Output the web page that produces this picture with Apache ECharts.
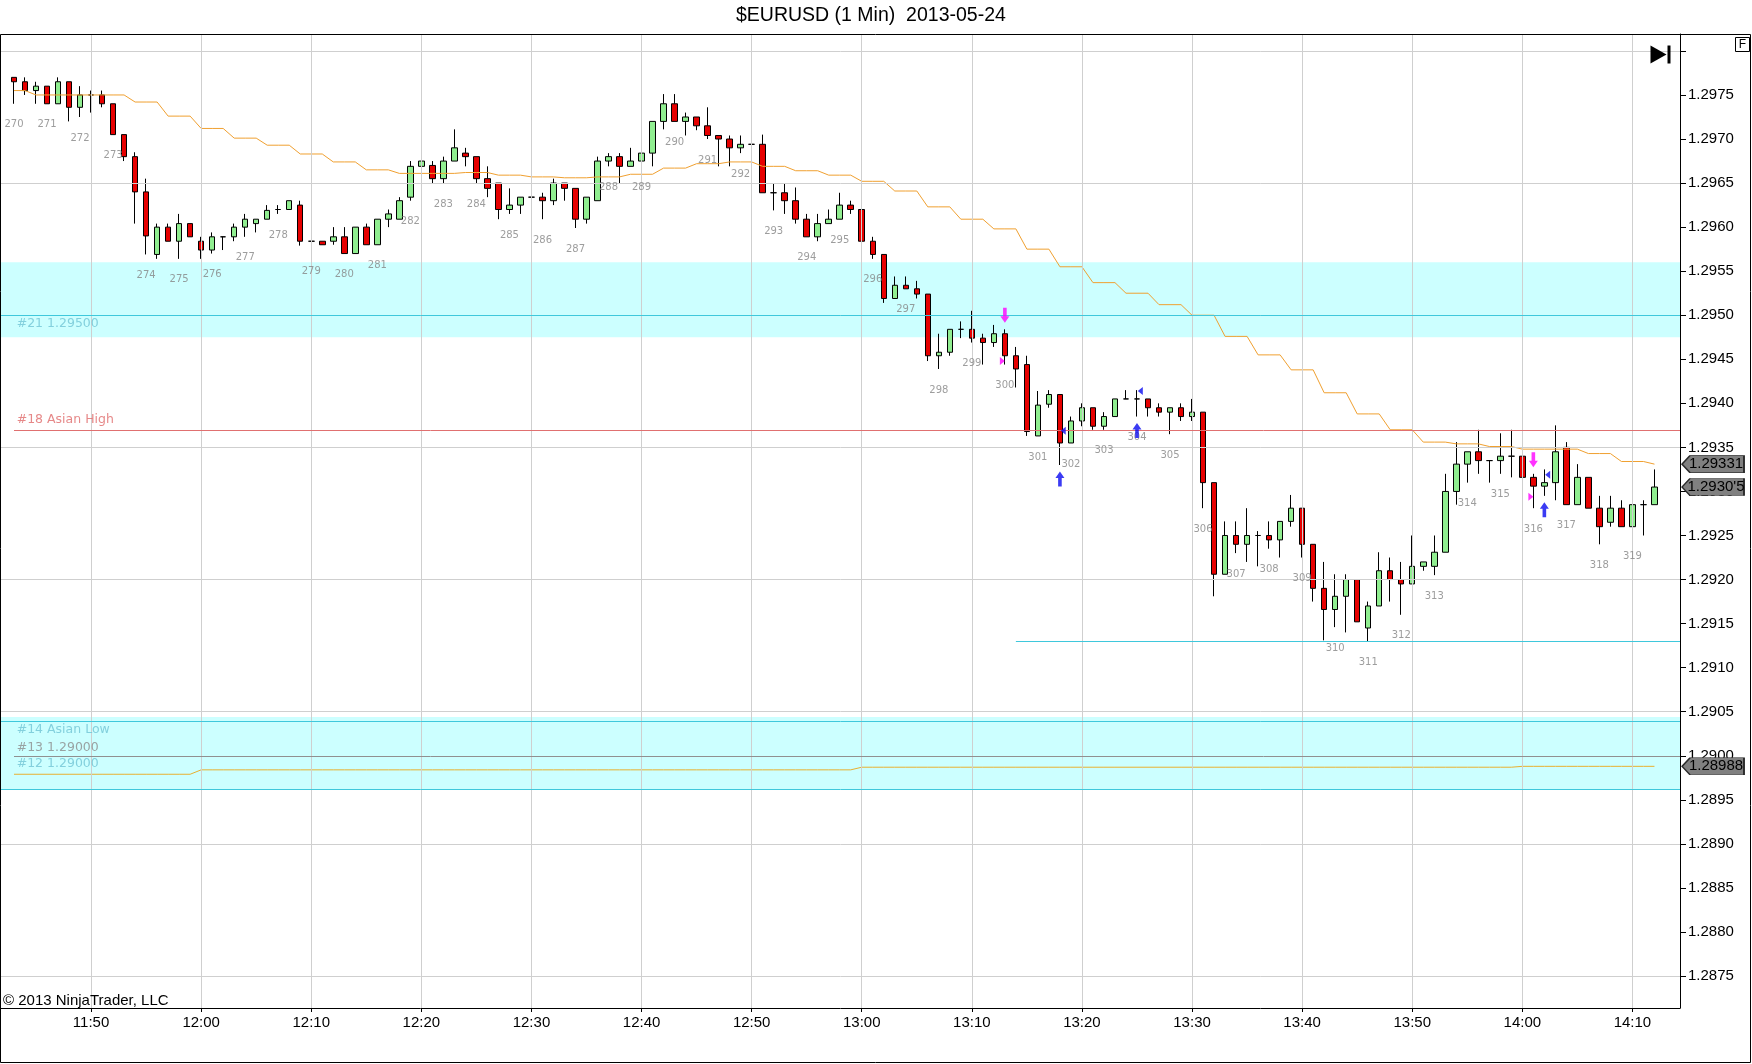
<!DOCTYPE html>
<html>
<head>
<meta charset="utf-8">
<script src="https://cdn.jsdelivr.net/npm/echarts@6.0.0/dist/echarts.min.js"></script>
<style>
html,body{margin:0;padding:0;background:#fff;}
#chart{width:1752px;height:1064px;}
</style>
</head>
<body>
<div id="chart"></div>
<script>
// ---------------- DATA ----------------
const times = [
'11:43','11:44','11:45','11:46','11:47','11:48','11:49','11:50','11:51','11:52',
'11:53','11:54','11:55','11:56','11:57','11:58','11:59','12:00','12:01','12:02',
'12:03','12:04','12:05','12:06','12:07','12:08','12:09','12:10','12:11','12:12',
'12:13','12:14','12:15','12:16','12:17','12:18','12:19','12:20','12:21','12:22',
'12:23','12:24','12:25','12:26','12:27','12:28','12:29','12:30','12:31','12:32',
'12:33','12:34','12:35','12:36','12:37','12:38','12:39','12:40','12:41','12:42',
'12:43','12:44','12:45','12:46','12:47','12:48','12:49','12:50','12:51','12:52',
'12:53','12:54','12:55','12:56','12:57','12:58','12:59','13:00','13:01','13:02',
'13:03','13:04','13:05','13:06','13:07','13:08','13:09','13:10','13:11','13:12',
'13:13','13:14','13:15','13:16','13:17','13:18','13:19','13:20','13:21','13:22',
'13:23','13:24','13:25','13:26','13:27','13:28','13:29','13:30','13:31','13:32',
'13:33','13:34','13:35','13:36','13:37','13:38','13:39','13:40','13:41','13:42',
'13:43','13:44','13:45','13:46','13:47','13:48','13:49','13:50','13:51','13:52',
'13:53','13:54','13:55','13:56','13:57','13:58','13:59','14:00','14:01','14:02',
'14:03','14:04','14:05','14:06','14:07','14:08','14:09','14:10','14:11','14:12'
];
const open = [
1.29770,1.29765,1.29755,1.29760,1.29740,1.29765,1.29736,1.29750,1.29750,1.29740,
1.29705,1.29680,1.29640,1.29569,1.29600,1.29584,1.29604,1.29584,1.29574,1.29589,
1.29589,1.29600,1.29604,1.29609,1.29620,1.29620,1.29625,1.29584,1.29584,1.29584,
1.29589,1.29570,1.29600,1.29580,1.29609,1.29609,1.29634,1.29669,1.29670,1.29655,
1.29675,1.29684,1.29680,1.29655,1.29650,1.29620,1.29625,1.29634,1.29634,1.29630,
1.29650,1.29644,1.29609,1.29630,1.29675,1.29680,1.29669,1.29675,1.29684,1.29720,
1.29740,1.29720,1.29725,1.29715,1.29704,1.29700,1.29690,1.29694,1.29694,1.29639,
1.29639,1.29630,1.29609,1.29589,1.29604,1.29609,1.29625,1.29620,1.29584,1.29569,
1.29519,1.29534,1.29530,1.29524,1.29454,1.29458,1.29484,1.29484,1.29474,1.29469,
1.29479,1.29454,1.29444,1.29363,1.29399,1.29410,1.29355,1.29380,1.29395,1.29374,
1.29385,1.29405,1.29405,1.29405,1.29395,1.29390,1.29395,1.29385,1.29390,1.29310,
1.29206,1.29250,1.29240,1.29250,1.29250,1.29245,1.29266,1.29281,1.29240,1.29190,
1.29166,1.29181,1.29200,1.29145,1.29170,1.29210,1.29200,1.29195,1.29215,1.29215,
1.29231,1.29300,1.29331,1.29345,1.29335,1.29335,1.29340,1.29340,1.29316,1.29306,
1.29310,1.29350,1.29285,1.29316,1.29281,1.29265,1.29281,1.29260,1.29285,1.29285
];
const close = [
1.29765,1.29755,1.29760,1.29740,1.29765,1.29736,1.29750,1.29750,1.29740,1.29705,
1.29680,1.29640,1.29590,1.29600,1.29584,1.29604,1.29589,1.29574,1.29589,1.29589,
1.29600,1.29609,1.29609,1.29619,1.29620,1.29630,1.29584,1.29584,1.29580,1.29589,
1.29570,1.29600,1.29580,1.29609,1.29615,1.29630,1.29669,1.29675,1.29655,1.29675,
1.29690,1.29680,1.29655,1.29644,1.29620,1.29625,1.29634,1.29634,1.29630,1.29650,
1.29644,1.29609,1.29634,1.29675,1.29680,1.29669,1.29675,1.29684,1.29720,1.29740,
1.29720,1.29725,1.29715,1.29704,1.29700,1.29690,1.29694,1.29694,1.29639,1.29639,
1.29630,1.29609,1.29589,1.29604,1.29609,1.29625,1.29620,1.29584,1.29569,1.29519,
1.29534,1.29530,1.29524,1.29454,1.29458,1.29484,1.29484,1.29474,1.29469,1.29479,
1.29454,1.29439,1.29368,1.29398,1.29410,1.29355,1.29380,1.29395,1.29374,1.29385,
1.29405,1.29405,1.29405,1.29395,1.29390,1.29395,1.29385,1.29390,1.29310,1.29206,
1.29250,1.29240,1.29250,1.29250,1.29245,1.29266,1.29281,1.29240,1.29190,1.29166,
1.29181,1.29200,1.29152,1.29170,1.29210,1.29200,1.29195,1.29215,1.29220,1.29231,
1.29300,1.29331,1.29345,1.29335,1.29335,1.29340,1.29340,1.29316,1.29306,1.29310,
1.29345,1.29285,1.29316,1.29281,1.29260,1.29281,1.29260,1.29285,1.29285,1.29305
];
const low = [
1.29740,1.29750,1.29740,1.29740,1.29740,1.29720,1.29725,1.29730,1.29736,1.29705,
1.29675,1.29604,1.29569,1.29564,1.29584,1.29564,1.29589,1.29564,1.29570,1.29574,
1.29584,1.29589,1.29594,1.29609,1.29615,1.29620,1.29579,1.29574,1.29580,1.29580,
1.29570,1.29570,1.29580,1.29580,1.29600,1.29609,1.29630,1.29660,1.29650,1.29650,
1.29675,1.29669,1.29650,1.29634,1.29609,1.29615,1.29615,1.29630,1.29609,1.29625,
1.29630,1.29599,1.29604,1.29630,1.29669,1.29650,1.29669,1.29669,1.29669,1.29711,
1.29720,1.29704,1.29710,1.29700,1.29669,1.29669,1.29684,1.29690,1.29639,1.29619,
1.29615,1.29604,1.29589,1.29584,1.29604,1.29609,1.29615,1.29579,1.29564,1.29514,
1.29519,1.29530,1.29519,1.29448,1.29439,1.29454,1.29474,1.29469,1.29444,1.29464,
1.29444,1.29418,1.29363,1.29363,1.29395,1.29330,1.29355,1.29374,1.29370,1.29370,
1.29385,1.29405,1.29385,1.29385,1.29385,1.29365,1.29380,1.29380,1.29281,1.29181,
1.29206,1.29230,1.29220,1.29215,1.29235,1.29225,1.29260,1.29225,1.29175,1.29131,
1.29146,1.29140,1.29152,1.29130,1.29170,1.29175,1.29160,1.29195,1.29210,1.29205,
1.29231,1.29285,1.29310,1.29320,1.29310,1.29320,1.29316,1.29310,1.29281,1.29295,
1.29290,1.29285,1.29285,1.29281,1.29240,1.29260,1.29260,1.29250,1.29250,1.29285
];
const high = [
1.29770,1.29770,1.29765,1.29760,1.29770,1.29765,1.29760,1.29755,1.29755,1.29740,
1.29705,1.29685,1.29655,1.29604,1.29604,1.29615,1.29604,1.29589,1.29594,1.29589,
1.29604,1.29615,1.29609,1.29625,1.29625,1.29630,1.29630,1.29589,1.29584,1.29600,
1.29600,1.29600,1.29604,1.29609,1.29620,1.29634,1.29675,1.29675,1.29675,1.29680,
1.29711,1.29690,1.29680,1.29669,1.29650,1.29644,1.29634,1.29659,1.29639,1.29655,
1.29650,1.29644,1.29634,1.29680,1.29684,1.29684,1.29690,1.29694,1.29720,1.29751,
1.29751,1.29730,1.29725,1.29736,1.29704,1.29704,1.29704,1.29700,1.29705,1.29650,
1.29650,1.29645,1.29615,1.29615,1.29620,1.29639,1.29630,1.29625,1.29589,1.29569,
1.29544,1.29544,1.29539,1.29524,1.29479,1.29484,1.29493,1.29505,1.29479,1.29489,
1.29484,1.29464,1.29454,1.29414,1.29415,1.29410,1.29385,1.29400,1.29395,1.29390,
1.29405,1.29415,1.29415,1.29405,1.29400,1.29395,1.29400,1.29405,1.29390,1.29310,
1.29266,1.29266,1.29281,1.29255,1.29266,1.29266,1.29296,1.29281,1.29240,1.29220,
1.29206,1.29206,1.29200,1.29175,1.29231,1.29225,1.29220,1.29250,1.29220,1.29250,
1.29320,1.29356,1.29345,1.29370,1.29335,1.29366,1.29370,1.29356,1.29320,1.29325,
1.29375,1.29356,1.29331,1.29316,1.29295,1.29295,1.29290,1.29285,1.29290,1.29325
];
// upper stepped average (orange)
const avgUpper = [
1.29755,1.29755,1.29750,1.29750,1.29750,1.29750,1.29750,1.29750,1.29750,1.29750,
1.29750,1.29742,1.29742,1.29742,1.29726,1.29726,1.29726,1.29712,1.29712,1.29712,
1.29701,1.29701,1.29701,1.29693,1.29693,1.29693,1.29683,1.29683,1.29683,1.29674,
1.29674,1.29674,1.29665,1.29665,1.29665,1.29661,1.29661,1.29661,1.29661,1.29661,
1.29661,1.29662,1.29662,1.29662,1.29659,1.29659,1.29659,1.29657,1.29657,1.29657,
1.29656,1.29656,1.29656,1.29657,1.29657,1.29657,1.29660,1.29660,1.29660,1.29667,
1.29667,1.29667,1.29672,1.29672,1.29672,1.29674,1.29674,1.29674,1.29669,1.29669,
1.29669,1.29664,1.29664,1.29664,1.29659,1.29659,1.29659,1.29652,1.29652,1.29652,
1.29641,1.29641,1.29641,1.29623,1.29623,1.29623,1.29609,1.29609,1.29609,1.29598,
1.29598,1.29598,1.29575,1.29575,1.29575,1.29555,1.29555,1.29555,1.29537,1.29537,
1.29537,1.29525,1.29525,1.29525,1.29512,1.29512,1.29512,1.29500,1.29500,1.29500,
1.29476,1.29476,1.29476,1.29455,1.29455,1.29455,1.29438,1.29438,1.29438,1.29412,
1.29412,1.29412,1.29388,1.29388,1.29388,1.29370,1.29370,1.29370,1.29356,1.29356,
1.29356,1.29354,1.29354,1.29354,1.29351,1.29351,1.29351,1.29348,1.29348,1.29348,
1.29348,1.29348,1.29348,1.29343,1.29343,1.29343,1.29334,1.29334,1.29334,1.29331
];
// lower stepped line (orange)
const avgLower = [
1.28979,1.28979,1.28979,1.28979,1.28979,1.28979,1.28979,1.28979,1.28979,1.28979,
1.28979,1.28979,1.28979,1.28979,1.28979,1.28979,1.28979,1.28984,1.28984,1.28984,
1.28984,1.28984,1.28984,1.28984,1.28984,1.28984,1.28984,1.28984,1.28984,1.28984,
1.28984,1.28984,1.28984,1.28984,1.28984,1.28984,1.28984,1.28984,1.28984,1.28984,
1.28984,1.28984,1.28984,1.28984,1.28984,1.28984,1.28984,1.28984,1.28984,1.28984,
1.28984,1.28984,1.28984,1.28984,1.28984,1.28984,1.28984,1.28984,1.28984,1.28984,
1.28984,1.28984,1.28984,1.28984,1.28984,1.28984,1.28984,1.28984,1.28984,1.28984,
1.28984,1.28984,1.28984,1.28984,1.28984,1.28984,1.28984,1.28987,1.28987,1.28987,
1.28987,1.28987,1.28987,1.28987,1.28987,1.28987,1.28987,1.28987,1.28987,1.28987,
1.28987,1.28987,1.28987,1.28987,1.28987,1.28987,1.28987,1.28987,1.28987,1.28987,
1.28987,1.28987,1.28987,1.28987,1.28987,1.28987,1.28987,1.28987,1.28987,1.28987,
1.28987,1.28987,1.28987,1.28987,1.28987,1.28987,1.28987,1.28987,1.28987,1.28987,
1.28987,1.28987,1.28987,1.28987,1.28987,1.28987,1.28987,1.28987,1.28987,1.28987,
1.28987,1.28987,1.28987,1.28987,1.28987,1.28987,1.28987,1.28988,1.28988,1.28988,
1.28988,1.28988,1.28988,1.28988,1.28988,1.28988,1.28988,1.28988,1.28988,1.28988
];
// bar numbers (every third bar)
const barNumbers = [270,271,272,273,274,275,276,277,278,279,280,281,282,283,284,285,286,287,288,289,
  290,291,292,293,294,295,296,297,298,299,300,301,302,303,304,305,306,307,308,309,
  310,311,312,313,314,315,316,317,318,319];
// zones & levels
const zoneTop = [1.29560, 1.29044];
const zoneBottom = [1.29475, 1.28962];
const levelPrices = [1.29500, 1.29370, 1.29039, 1.29000, 1.28962, 1.29130];
const levelStart = [null, '11:43', null, '11:43', null, '13:14'];
const levelTexts = ['#21 1.29500', '#18 Asian High', '#14 Asian Low', '#13 1.29000', '#12 1.29000'];
const levelTextPrices = [1.29500, 1.29370, 1.29039, 1.29000, 1.29000];
// signals
const buyArrowTimes = ['13:18', '13:25', '14:02'];
const sellArrowTimes = ['13:13', '14:01'];
const buyMarkTimes = ['13:18', '13:25', '14:02'];
const buyMarkPrices = [1.29369, 1.29414, 1.29319];
const sellMarkTimes = ['13:13', '14:01'];
const sellMarkPrices = [1.29448, 1.29294];
// axes
const xTickTimes = ['11:50','12:00','12:10','12:20','12:30','12:40','12:50','13:00','13:10','13:20','13:30','13:40','13:50','14:00','14:10'];
const yTickValues = [1.2875,1.2880,1.2885,1.2890,1.2895,1.2900,1.2905,1.2910,1.2915,1.2920,1.2925,1.2930,1.2935,1.2940,1.2945,1.2950,1.2955,1.2960,1.2965,1.2970,1.2975,1.2980];
const yLabelValues = [1.2875,1.2880,1.2885,1.2890,1.2895,1.2900,1.2905,1.2910,1.2915,1.2920,1.2925,1.2930,1.2935,1.2940,1.2945,1.2950,1.2955,1.2960,1.2965,1.2970,1.2975];
const yGridValues = [1.2875,1.2890,1.2905,1.2920,1.2935,1.2950,1.2965,1.2980];

// ---------------- HELPERS / STYLE ----------------
const toMin = t => { const p = t.split(':'); return (+p[0]) * 60 + (+p[1]); };
const fmtTime = v => { const h = Math.floor(v / 60), m = Math.round(v - h * 60); return h + ':' + (m < 10 ? '0' : '') + m; };
const X_MIN = 701.82, X_MAX = 854.32;
const Y_MIN = 1.287137, Y_MAX = 1.298192;
const AXIS_FONT = "'Liberation Sans Narrow', 'Liberation Sans', Arial, sans-serif";
const LABEL_FONT = "'DejaVu Sans', Verdana, sans-serif";
const levelColors = ['#3fc8dc', '#e07070', '#3fc8dc', '#909090', '#3fc8dc', '#3fc8dc'];
const levelTextColors = ['#70c4d4', '#e06a6a', '#70c4d4', '#8c8c8c', '#70c4d4'];
const levelTextDy = [9, -9.6, 8.7, -8.4, 7.6];
const TAG = 'path://M0,8.5 L8,0 L62,0 L62,17 L8,17 Z';
const idx = t => times.indexOf(t);

const candleData = times.map((t, i) => [toMin(t), open[i], close[i], low[i], high[i]]);
const upperData = times.map((t, i) => [toMin(t), avgUpper[i]]);
const lowerData = times.map((t, i) => [toMin(t), avgLower[i]]);
const barLabelData = barNumbers.map((n, k) => [toMin(times[3 * k]), low[3 * k], n]);

function tagMarker(value, text) {
  return {
    symbol: TAG, symbolSize: [62, 17], symbolOffset: [33, 0], silent: true,
    itemStyle: { color: '#808080', borderColor: '#2a2a2a', borderWidth: 1 },
    label: { show: true, position: 'inside', offset: [3, 0], color: '#000', fontFamily: AXIS_FONT, fontSize: 15, formatter: '{b}' },
    data: [{ name: text, coord: [X_MAX, value] }]
  };
}
const lastI = times.length - 1;
const closeText = (() => { const s = close[lastI].toFixed(5); return s.slice(0, -1) + "'" + s.slice(-1); })();

const gridLines = yGridValues.map(v => [{ coord: [X_MIN, v] }, { coord: [X_MAX, v] }])
  .concat(xTickTimes.map(t => [{ coord: [toMin(t), Y_MIN] }, { coord: [toMin(t), Y_MAX] }]));

const levelLines = levelPrices.map((p, i) => [
  { coord: [levelStart[i] ? toMin(levelStart[i]) : X_MIN, p], lineStyle: { color: levelColors[i], width: 1, type: 'solid' } },
  { coord: [X_MAX, p] }
]);

const levelTextData = levelTexts.map((txt, i) => ({
  value: [toMin(times[0]), levelTextPrices[i]],
  label: { show: true, formatter: txt, color: levelTextColors[i], position: 'inside', align: 'left', verticalAlign: 'middle', offset: [2.7, levelTextDy[i]], fontFamily: LABEL_FONT, fontSize: 12.5 }
}));

const chart = echarts.init(document.getElementById('chart'), null, { renderer: 'canvas' });
chart.setOption({
  animation: false,
  backgroundColor: '#ffffff',
  title: {
    text: '$EURUSD (1 Min)  2013-05-24', left: 736, top: 6, padding: 0,
    textStyle: { fontFamily: "'Liberation Sans', Arial, sans-serif", fontSize: 19.5, fontWeight: 'normal', color: '#000' }
  },
  grid: { left: 1, right: 72, top: 34, bottom: 56, containLabel: false },
  xAxis: {
    type: 'value', min: X_MIN, max: X_MAX, position: 'bottom',
    axisLine: { show: true, onZero: false, lineStyle: { color: '#000', width: 1 } },
    axisTick: { show: true, customValues: xTickTimes.map(toMin), length: 4, lineStyle: { color: '#000' } },
    axisLabel: { show: true, customValues: xTickTimes.map(toMin), formatter: v => fmtTime(v), color: '#000', fontFamily: AXIS_FONT, fontSize: 15, margin: 7 },
    splitLine: { show: false }
  },
  yAxis: {
    type: 'value', min: Y_MIN, max: Y_MAX, position: 'right', scale: true,
    axisLine: { show: true, onZero: false, lineStyle: { color: '#000', width: 1 } },
    axisTick: { show: true, inside: false, customValues: yTickValues, length: 6, lineStyle: { color: '#000' } },
    axisLabel: { show: true, customValues: yLabelValues, formatter: v => v.toFixed(4), color: '#000', fontFamily: AXIS_FONT, fontSize: 15, margin: 8 },
    splitLine: { show: false }
  },
  series: [
    { // grid lines
      type: 'line', z: 1, data: [], silent: true, symbol: 'none',
      markLine: { silent: true, symbol: ['none', 'none'], animation: false, label: { show: false },
        lineStyle: { color: '#cfcfcf', width: 1, type: 'solid' }, data: gridLines }
    },
    {
      type: 'candlestick', z: 2, silent: true, barWidth: 6,
      data: candleData, encode: { x: 0, y: [1, 2, 3, 4] },
      itemStyle: { color: '#90ee90', color0: '#e60000', borderColor: '#000', borderColor0: '#000', borderColorDoji: '#000', borderWidth: 1 },
      markPoint: tagMarker(close[lastI], closeText)
    },
    {
      type: 'line', z: 3, silent: true, data: upperData, showSymbol: false, symbol: 'none',
      lineStyle: { color: '#f0a030', width: 1 },
      markPoint: tagMarker(avgUpper[lastI], avgUpper[lastI].toFixed(5))
    },
    {
      type: 'line', z: 3, silent: true, data: lowerData, showSymbol: false, symbol: 'none',
      lineStyle: { color: '#e8b030', width: 1 },
      markPoint: tagMarker(avgLower[lastI], avgLower[lastI].toFixed(5))
    },
    { // zones (translucent, on top of bars)
      type: 'line', z: 4, data: [], silent: true, symbol: 'none',
      markArea: { silent: true, itemStyle: { color: 'rgba(0,255,255,0.2)' },
        data: zoneTop.map((t, i) => [{ coord: [X_MIN, t] }, { coord: [X_MAX, zoneBottom[i]] }]) }
    },
    { // level lines
      type: 'line', z: 5, data: [], silent: true, symbol: 'none',
      markLine: { silent: true, symbol: ['none', 'none'], label: { show: false }, data: levelLines }
    },
    { // level texts
      type: 'scatter', z: 6, silent: true, symbolSize: 1, itemStyle: { color: 'rgba(0,0,0,0)' },
      data: levelTextData
    },
    { // bar numbers
      type: 'scatter', z: 6, silent: true, symbolSize: 1, itemStyle: { color: 'rgba(0,0,0,0)' },
      data: barLabelData,
      label: { show: true, position: 'inside', offset: [0, 21], formatter: p => String(p.data[2]), color: '#858585', fontFamily: LABEL_FONT, fontSize: 10 }
    },
    { // buy arrows below bars
      type: 'scatter', z: 7, silent: true,
      symbol: 'path://M4.5,0 L9,6.5 L6.3,6.5 L6.3,15 L2.7,15 L2.7,6.5 L0,6.5 Z', symbolSize: [9, 15], symbolOffset: [0, 14],
      itemStyle: { color: '#0a0af0' },
      data: buyArrowTimes.map(t => [toMin(t), low[idx(t)]])
    },
    { // sell arrows above bars
      type: 'scatter', z: 7, silent: true,
      symbol: 'path://M2.7,0 L6.3,0 L6.3,8.5 L9,8.5 L4.5,15 L0,8.5 L2.7,8.5 Z', symbolSize: [9, 15], symbolOffset: [0, -14],
      itemStyle: { color: '#ff00ff' },
      data: sellArrowTimes.map(t => [toMin(t), high[idx(t)]])
    },
    { // buy entry marks
      type: 'scatter', z: 7, silent: true,
      symbol: 'path://M0,3.5 L4,0 L4,7 Z', symbolSize: [5, 8], symbolOffset: [3.3, 0],
      itemStyle: { color: '#0a0af0' },
      data: buyMarkTimes.map((t, i) => [toMin(t), buyMarkPrices[i]])
    },
    { // sell entry marks
      type: 'scatter', z: 7, silent: true,
      symbol: 'path://M0,0 L4,3.5 L0,7 Z', symbolSize: [5, 8], symbolOffset: [-2.5, 0],
      itemStyle: { color: '#ff00ff' },
      data: sellMarkTimes.map((t, i) => [toMin(t), sellMarkPrices[i]])
    }
  ],
  graphic: [
    { type: 'rect', silent: true, z: 100, shape: { x: 0.5, y: 34.5, width: 1750, height: 1028 }, style: { fill: 'none', stroke: '#000', lineWidth: 1 } },
    { type: 'rect', silent: true, z: 100, shape: { x: 1735.5, y: 37.5, width: 14, height: 14 }, style: { fill: '#fff', stroke: '#000', lineWidth: 1 } },
    { type: 'text', silent: true, z: 101, x: 1742.5, y: 45, style: { text: 'F', fill: '#000', font: "12px 'Liberation Sans', Arial", textAlign: 'center', textVerticalAlign: 'middle' } },
    { type: 'polygon', silent: true, z: 100, shape: { points: [[1650.5, 45.5], [1650.5, 63.5], [1666.5, 54.5]] }, style: { fill: '#000' } },
    { type: 'rect', silent: true, z: 100, shape: { x: 1667.5, y: 45.5, width: 3, height: 18 }, style: { fill: '#000' } },
    { type: 'text', silent: true, z: 100, x: 3, y: 1001, style: { text: '\u00a9 2013 NinjaTrader, LLC', fill: '#000', font: "15px 'Liberation Sans Narrow', 'Liberation Sans', Arial", textVerticalAlign: 'middle' } }
  ]
});
</script>
</body>
</html>
